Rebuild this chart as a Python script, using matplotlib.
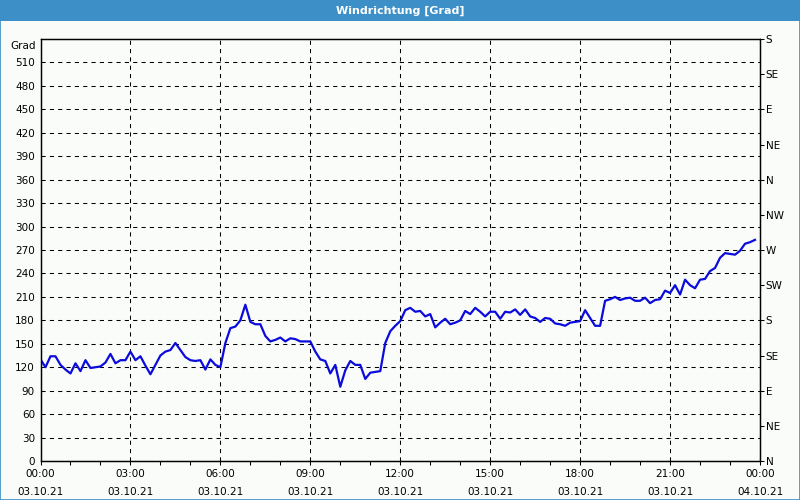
import numpy as np
import pandas as pd
import matplotlib
matplotlib.use("Agg")
from matplotlib import pyplot as plt
from matplotlib.patches import Rectangle
import matplotlib.dates as mdates

# Wind direction, 10-minute values for 03.10.21
times = pd.date_range("2021-10-03 00:00", periods=144, freq="10min")
direction = [
    130, 120, 134, 134, 123, 117, 112, 125, 115, 129, 119, 120,
    121, 126, 137, 125, 129, 129, 140, 129, 134, 122, 111, 123,
    135, 140, 142, 151, 142, 133, 129, 128, 129, 117, 130, 123,
    120, 151, 170, 172, 180, 200, 178, 175, 175, 160, 153, 155,
    158, 153, 157, 156, 153, 153, 153, 140, 130, 128, 112, 123,
    95, 116, 128, 123, 123, 105, 113, 114, 115, 151, 166, 173,
    179, 193, 196, 191, 192, 185, 188, 171, 177, 182, 175, 177,
    180, 192, 188, 196, 191, 185, 191, 191, 182, 191, 190, 194,
    187, 194, 185, 183, 178, 183, 182, 176, 175, 173, 177, 178,
    179, 193, 183, 173, 173, 205, 207, 210, 206, 208, 209, 205,
    205, 209, 202, 206, 207, 218, 215, 225, 213, 232, 225, 221,
    232, 233, 243, 247, 260, 266, 265, 264, 269, 278, 280, 283,
]

y_ticks = list(range(0, 511, 30))
compass_ticks = list(range(0, 541, 45))
compass_labels = ["N", "NE", "E", "SE", "S", "SW", "W", "NW",
                  "N", "NE", "E", "SE", "S"]
x_ticks = pd.date_range("2021-10-03 00:00", "2021-10-04 00:00", freq="3h")
x_labels = [t.strftime("%H:%M\n%d.%m.%y") for t in x_ticks]

bar_color = "#3c8fc7"
bg_color = "#fafcfa"
font_size = 7.5

fig = plt.figure(figsize=(8, 5), dpi=100, facecolor=bg_color)

# title bar and blue frame
fig.patches.append(Rectangle((0, 1 - 21 / 500), 1, 21 / 500, transform=fig.transFigure,
                             facecolor=bar_color, edgecolor="none", zorder=0))
fig.patches.append(Rectangle((0.0006, 0.001), 0.9988, 0.998, transform=fig.transFigure,
                             facecolor="none", edgecolor=bar_color, lw=1.2, zorder=5))
fig.text(0.5, 1 - 10.5 / 500, "Windrichtung [Grad]", color="white", fontsize=8,
         fontweight="bold", ha="center", va="center")

ax = fig.add_axes([40.5 / 800, 39 / 500, 719.5 / 800, 422 / 500])
ax.set_facecolor(bg_color)
ax.plot(times, direction, color="#0b0bdc", lw=1.6, zorder=3)

ax.set_xlim(x_ticks[0], x_ticks[-1])
ax.set_ylim(0, 540)
ax.set_yticks(y_ticks)
ax.set_yticklabels([str(v) for v in y_ticks], fontsize=font_size)
ax.set_xticks(x_ticks)
ax.set_xticklabels(x_labels, fontsize=font_size, linespacing=1.9)
ax.xaxis.set_minor_locator(mdates.HourLocator())

ax.grid(True, color="black", lw=0.75, linestyle=(0, (4, 4)))
ax.tick_params(axis="y", length=0, pad=4)
ax.tick_params(axis="x", which="both", length=3, width=0.75, direction="out", pad=3)
for sp in ax.spines.values():
    sp.set_linewidth(0.9)

# compass scale on the right
ax2 = ax.twinx()
ax2.set_ylim(0, 540)
ax2.set_yticks(compass_ticks)
ax2.set_yticklabels(compass_labels, fontsize=font_size)
ax2.tick_params(axis="y", length=3, width=0.75, pad=1)
for sp in ax2.spines.values():
    sp.set_linewidth(0.9)

fig.text(36 / 800, 1 - 46 / 500, "Grad", fontsize=font_size, ha="right", va="center")

fig.savefig("out.png", dpi=100, facecolor=bg_color)
